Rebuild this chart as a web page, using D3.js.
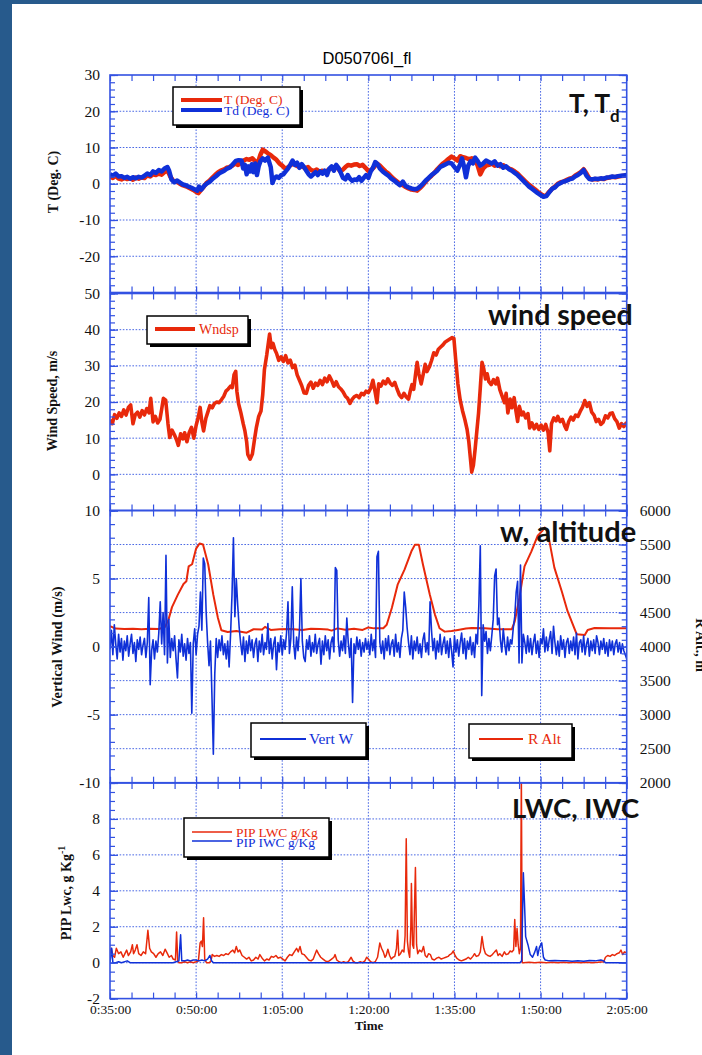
<!DOCTYPE html>
<html>
<head>
<meta charset="utf-8">
<script src="https://cdn.jsdelivr.net/npm/d3@7"></script>
<style>
  html, body { margin: 0; padding: 0; background: #fff; }
  svg { display: block; }
</style>
</head>
<body>
<svg id="chart" width="702" height="1055"></svg>
<script>
// ---------- flight D050706I_fl : time in minutes after 0:00 ----------
const timeTickMinutes = [35, 50, 65, 80, 95, 110, 125];
const timeTickLabels = ["0:35:00", "0:50:00", "1:05:00", "1:20:00", "1:35:00", "1:50:00", "2:05:00"];

// Temperature (Deg. C) [minute, value]
const tempT = [
  [35,2.0],[35.5,1.6],[36,2.2],[36.5,1.4],[37,1.2],[37.5,1.6],[38,1.3],[38.5,1.5],[39,1.1],[39.5,1.7],
  [40,1.4],[40.5,1.8],[41,1.6],[41.5,2.3],[42,2.0],[42.5,2.6],[43,2.4],[43.5,2.8],[44,2.5],[44.5,3.2],
  [45,3.8],[45.5,2.0],[46,0.8],[46.5,0.6],[47,0.2],[47.5,-0.3],[48,-0.6],[48.5,-0.9],[49,-1.3],[49.5,-1.7],
  [50,-2.2],[50.4,-2.6],[50.8,-1.8],[51.3,-0.9],[51.8,0.2],[52.3,0.8],[52.8,1.6],[53.3,2.4],[53.8,3.1],[54.3,3.6],
  [54.8,3.9],[55.3,4.4],[55.8,4.6],[56.3,5.0],[56.8,5.6],[57.3,5.2],[57.8,5.8],[58.3,6.4],[58.8,6.8],[59.3,6.6],
  [59.8,7.0],[60.3,6.2],[60.8,6.0],[61.2,8.0],[61.6,9.4],[62,9.0],[62.5,8.4],[63,7.9],[63.5,7.2],[64,6.6],
  [64.5,5.6],[65,5.0],[65.5,4.2],[66,4.5],[66.5,5.2],[67,5.6],[67.5,5.0],[68,4.6],[68.5,4.9],[69,4.2],
  [69.5,4.6],[70,3.8],[70.5,3.5],[71,3.9],[71.5,3.3],[72,3.6],[72.5,3.2],[73,3.8],[73.5,4.3],[74,4.0],
  [74.5,4.8],[75,3.6],[75.5,3.8],[76,4.6],[76.5,5.2],[77,5.0],[77.5,5.3],[78,5.4],[78.5,4.9],[79,5.2],
  [79.5,4.4],[80,3.5],[80.5,3.8],[81,4.6],[81.5,5.6],[82,5.0],[82.5,4.2],[83,3.4],[83.5,2.8],[84,2.0],
  [84.5,1.2],[85,0.6],[85.5,0.0],[86,-0.4],[86.5,-0.9],[87,-1.3],[87.5,-1.6],[88,-1.7],[88.5,-1.9],[89,-1.2],
  [89.5,-0.4],[90,0.6],[90.5,1.5],[91,2.2],[91.5,3.0],[92,4.0],[92.5,4.8],[93,5.6],[93.5,6.2],[94,6.9],
  [94.5,7.5],[95,7.0],[95.5,6.4],[96,7.6],[96.5,7.3],[97,7.1],[97.5,6.8],[98,7.0],[98.5,6.6],[99,5.2],
  [99.5,2.6],[100,4.2],[100.5,5.0],[101,5.2],[101.5,5.6],[102,5.0],[102.5,5.4],[103,4.8],[103.5,5.1],[104,4.6],
  [104.5,4.2],[105,3.9],[105.5,3.4],[106,2.8],[106.5,2.0],[107,1.2],[107.5,0.4],[108,-0.3],[108.5,-0.9],[109,-1.5],
  [109.5,-2.2],[110,-2.8],[110.5,-3.4],[111,-3.2],[111.5,-2.2],[112,-1.4],[112.5,-0.8],[113,0.0],[113.5,0.4],[114,0.6],
  [114.5,1.0],[115,1.4],[115.5,1.6],[116,2.2],[116.5,2.7],[117,3.2],[117.5,4.0],[118,2.8],[118.5,1.4],[119,1.2],
  [119.5,1.3],[120,1.2],[120.5,1.4],[121,1.3],[121.5,1.6],[122,1.7],[122.5,1.9],[123,1.8],[123.5,2.0],[124,2.1],
  [124.5,2.2],[125,2.3]
];

// Dew point (Deg. C) [minute, value]
const tempTd = [
  [35,2.6],[35.5,2.2],[36,2.8],[36.5,2.0],[37,2.1],[37.5,1.6],[38,1.9],[38.5,1.4],[39,1.8],[39.5,1.5],
  [40,1.9],[40.5,1.7],[41,2.2],[41.5,2.8],[42,2.4],[42.5,3.4],[43,3.0],[43.5,3.8],[44,3.4],[44.5,4.2],
  [45,4.6],[45.3,3.6],[45.7,1.2],[46.2,0.4],[46.7,0.9],[47.2,0.3],[47.7,-0.2],[48.2,-0.4],[48.7,-0.8],[49.2,-1.1],
  [49.7,-1.5],[50.2,-1.9],[50.5,-0.8],[50.9,-1.6],[51.4,-0.6],[51.9,0.1],[52.4,0.6],[52.9,1.4],[53.4,2.0],[53.9,2.7],
  [54.4,3.2],[54.9,3.6],[55.4,4.2],[55.9,4.5],[56.4,5.4],[56.9,6.3],[57.4,6.5],[57.9,6.4],[58.2,4.2],[58.5,5.2],
  [58.8,2.6],[59.1,4.8],[59.4,3.4],[59.7,5.4],[60,3.2],[60.3,5.6],[60.6,2.4],[60.9,4.8],[61.2,6.2],[61.6,7.0],
  [62,6.4],[62.5,7.2],[63,4.6],[63.3,0.2],[63.6,1.4],[64,2.0],[64.4,1.6],[64.8,2.4],[65.2,2.6],[65.6,3.4],
  [66,4.2],[66.4,5.2],[66.8,6.4],[67.2,5.2],[67.6,5.8],[68,4.4],[68.4,5.4],[68.8,4.6],[69.2,3.6],[69.6,2.6],
  [70,2.0],[70.4,2.6],[70.8,3.2],[71.2,2.4],[71.6,3.4],[72,2.8],[72.4,3.6],[72.8,2.4],[73.2,4.2],[73.6,4.8],
  [74,3.6],[74.4,5.2],[74.8,4.4],[75.2,3.0],[75.6,1.6],[76,1.2],[76.4,2.4],[76.8,1.4],[77.2,0.8],[77.6,1.2],
  [78,1.0],[78.4,1.8],[78.8,0.8],[79.2,1.6],[79.6,2.4],[80,1.6],[80.4,3.4],[80.8,4.4],[81.2,6.0],[81.6,5.4],
  [82,4.2],[82.5,3.4],[83,2.8],[83.5,2.2],[84,1.4],[84.5,0.9],[85,0.2],[85.5,-0.4],[86,0.6],[86.5,-0.6],
  [87,-1.0],[87.5,-1.3],[88,-1.5],[88.5,-1.4],[89,-0.8],[89.5,0.0],[90,0.9],[90.5,1.6],[91,2.4],[91.5,3.0],
  [92,3.6],[92.5,4.6],[93,5.0],[93.5,5.4],[94,5.8],[94.5,5.6],[95,4.6],[95.5,3.6],[96,5.4],[96.3,7.0],
  [96.6,5.2],[97,1.8],[97.4,5.0],[97.8,6.2],[98.2,5.6],[98.6,7.2],[99,6.4],[99.5,5.0],[100,5.6],[100.5,6.4],
  [101,6.0],[101.5,5.6],[102,6.2],[102.5,5.0],[103,5.4],[103.5,4.4],[104,4.8],[104.5,4.0],[105,3.6],[105.5,3.0],
  [106,2.4],[106.5,1.6],[107,0.8],[107.5,0.0],[108,-0.8],[108.5,-1.4],[109,-2.0],[109.5,-2.6],[110,-3.1],[110.5,-3.6],
  [111,-3.4],[111.5,-2.4],[112,-1.4],[112.5,-1.0],[113,-0.2],[113.5,0.2],[114,0.6],[114.5,0.8],[115,1.2],[115.5,1.4],
  [116,2.0],[116.5,2.4],[117,3.0],[117.5,3.8],[118,2.2],[118.5,1.3],[119,1.2],[119.5,1.4],[120,1.3],[120.5,1.5],
  [121,1.4],[121.5,1.7],[122,1.8],[122.5,2.0],[123,1.9],[123.5,2.1],[124,2.2],[124.5,2.3],[125,2.4]
];

// Wind speed (m/s) [minute, value]
const windSpeed = [
  [35,15],[35.4,14],[35.8,16.5],[36.2,15.5],[36.6,17],[37,16],[37.4,17.8],[37.8,16.4],[38.2,18.5],[38.6,19.2],
  [39,14],[39.4,16.5],[39.8,17.2],[40.2,15.8],[40.6,17.6],[41,16.4],[41.4,18.2],[41.8,17],[42.1,21],[42.5,14.5],
  [42.9,16],[43.3,14.2],[43.7,15.2],[44,18],[44.3,21],[44.7,20.5],[45.1,14],[45.4,10.2],[45.8,12.2],[46.2,11],
  [46.6,9.5],[46.9,8],[47.3,11.2],[47.7,9.8],[48,11.5],[48.4,9],[48.8,11.6],[49.2,13],[49.6,10],[50,13.5],
  [50.4,16],[50.7,18.5],[51,14.5],[51.3,12],[51.7,15.5],[52,17],[52.4,19],[52.8,18.4],[53.2,19.6],[53.6,20],
  [54,19.8],[54.4,20.6],[54.8,21.5],[55.2,23],[55.6,23.6],[56,24.4],[56.3,24],[56.6,27.5],[56.9,28.5],[57.1,23],
  [57.4,19.5],[57.8,17],[58.2,14],[58.5,12],[58.8,9],[59,5.5],[59.4,4.2],[59.8,5.6],[60.2,10],[60.5,13],
  [60.9,16],[61.3,17.5],[61.6,22],[61.9,29],[62.3,33],[62.6,36.5],[62.8,38.8],[63.1,35],[63.4,36.2],[63.7,34.5],
  [64,33.5],[64.4,31.5],[64.8,32.5],[65.2,31.2],[65.6,32.8],[66,30.8],[66.4,31.6],[66.8,29.5],[67.2,30.2],[67.6,27.5],
  [68,26],[68.4,24.5],[68.8,22.5],[69.2,22.4],[69.6,24.6],[70,25.5],[70.4,23.8],[70.8,25.2],[71.2,24.6],[71.6,26],
  [72,24.8],[72.4,26.6],[72.8,25.6],[73.2,27.2],[73.6,26],[74,24.4],[74.4,25.6],[74.8,24.2],[75.2,23.6],[75.6,22.8],
  [76,21.6],[76.4,21],[76.8,19.6],[77.2,20.8],[77.6,21.5],[78,21.8],[78.4,21.2],[78.8,22.4],[79.2,22],[79.6,23],
  [80,22.6],[80.4,23.8],[80.8,26],[81.2,22.6],[81.5,19.8],[81.8,25],[82.2,24.4],[82.6,25.8],[83,25],[83.4,26.4],
  [83.8,25.2],[84.2,24.6],[84.6,25.4],[85,23.6],[85.4,22],[85.8,21.2],[86.2,22.4],[86.6,21.4],[87,20.8],[87.3,23],
  [87.6,24.8],[87.9,23.5],[88.2,27.4],[88.5,31],[88.8,27.8],[89.2,25],[89.6,28],[89.9,30.4],[90.2,28.4],[90.6,29.6],
  [91,31.4],[91.4,33.6],[91.8,33],[92.2,34.6],[92.6,35.2],[93,35.8],[93.4,36.6],[93.8,37],[94.2,37.4],[94.6,37.8],
  [94.9,37.6],[95.2,32],[95.6,25],[96,20.5],[96.4,17.6],[96.8,15.2],[97.2,12.4],[97.5,9],[97.8,4],[98,0.6],
  [98.3,2.5],[98.6,7],[98.9,12],[99.2,17],[99.5,24],[99.8,31],[100.1,29.2],[100.4,26.4],[100.7,27.8],[101,25.6],
  [101.4,24.8],[101.8,26.2],[102.2,25],[102.5,26.6],[102.9,23.4],[103.3,21.6],[103.7,19.8],[104,22.4],[104.3,17],[104.7,20.8],
  [105,18.4],[105.4,21.2],[105.7,17.6],[106,14.6],[106.3,18.8],[106.7,16.4],[107,17.2],[107.4,15.6],[107.8,16.8],[108.1,12.8],
  [108.5,14.2],[108.9,12.6],[109.3,13.8],[109.7,12.4],[110.1,13.6],[110.5,12.2],[110.9,13.8],[111.3,11.6],[111.6,6.5],[111.9,14],
  [112.3,15.6],[112.7,14.8],[113,16],[113.4,14.6],[113.8,15.2],[114.2,13.4],[114.5,12.4],[114.9,14.6],[115.3,15.8],[115.7,15],
  [116.1,16.4],[116.5,16],[116.9,17.4],[117.3,18.6],[117.7,20.4],[118.1,18.8],[118.5,19.8],[118.9,17.2],[119.3,16.4],[119.7,14.6],
  [120.1,15.2],[120.5,13.8],[120.9,14.4],[121.3,16.2],[121.7,15.6],[122.1,16.8],[122.5,17],[122.9,15.4],[123.3,14.6],[123.7,12.8],
  [124.1,14],[124.5,13.2],[125,14.4]
];

// Vertical wind (m/s), one sample every quarter minute from 0:35:00
const vertWStart = 35;
const vertWStep = 0.25;
const vertW = [
  -0.2,1.2,-0.6,1.6,  0.2,-0.9,0.9,-0.4,  0.6,-1.0,0.4,-0.3,  0.8,-0.7,0.2,0.9,  -0.5,0.3,-1.1,0.5,
  -0.2,0.7,-0.6,0.1,  0.6,-0.8,0.3,3.6,  -2.8,-0.3,0.5,-0.9,  0.4,-0.4,1.0,3.3,  0.2,2.5,-0.6,6.7,
  -1.2,2.0,-0.8,0.6,  -0.3,0.8,-0.9,-2.3,  0.5,-0.4,0.9,-0.7,  0.2,-1.0,0.6,-0.5,  0.3,-4.9,0.2,1.3,
  -0.6,0.9,1.5,4.0,  1.2,6.5,6.1,2.5,  0.3,-1.4,0.4,-3.5,  -7.9,-2.0,0.6,-0.8,  0.5,-0.3,0.8,-0.6,
  0.2,-0.9,0.4,-1.5,  0.9,3.8,8.0,2.2,  5.0,3.0,1.4,0.3,  -0.6,0.7,-1.1,0.4,  -0.5,0.8,-0.3,0.5,
  -0.8,0.2,0.6,-1.1,  0.4,-0.4,0.9,-0.6,  0.3,-0.2,1.7,-0.5,  0.6,-0.9,0.2,0.7,  -1.7,0.3,-0.4,0.8,
  -0.6,0.5,-0.2,1.0,  3.3,-0.5,0.6,4.4,  0.2,-0.9,0.7,-0.3,  1.2,5.0,0.4,-0.8,  -1.1,0.5,-0.2,0.8,
  -0.7,0.3,-0.4,0.9,  -0.5,0.2,0.6,-1.3,  0.4,-0.6,0.8,-0.3,  0.5,-0.9,0.3,0.7,  -0.4,5.8,5.6,0.5,
  -0.7,0.4,-0.3,0.8,  -0.5,2.1,0.3,-0.8,  0.6,-4.1,0.2,-0.5,  0.7,-0.2,0.5,-0.7,  0.3,-0.4,0.6,-0.2,
  0.4,-0.6,0.9,-0.3,  0.5,-0.8,6.6,7.0,  0.3,-0.5,0.4,-0.9,  0.6,-0.3,0.8,-0.6,  0.2,0.5,-0.7,0.9,
  -0.4,0.3,-0.8,0.6,  1.2,4.0,2.9,1.4,  0.3,-0.6,0.8,-0.9,  0.4,-0.3,0.7,-0.5,  0.2,-0.8,0.5,1.0,
  -0.4,0.3,-0.6,3.3,  1.2,-0.3,0.6,-0.9,  0.4,-0.4,0.9,-0.6,  0.2,0.7,-0.5,0.4,  -0.8,0.6,-0.3,-1.5,
  0.8,-0.4,0.5,-0.7,  0.3,1.0,-0.5,0.6,  -0.9,0.4,-0.2,0.7,  -0.6,0.3,-0.8,0.9,  0.2,3.1,7.4,-3.6,
  1.6,0.4,1.1,-0.5,  0.6,-0.3,0.8,2.0,  5.2,5.7,1.6,2.1,  0.5,-0.4,1.3,0.2,  -0.6,0.7,-0.3,0.5,
  0.2,1.4,2.2,4.0,  4.8,-1.2,6.0,-1.2,  0.9,0.3,-0.5,0.8,  -0.4,0.6,-0.6,0.3,  0.9,-0.5,0.4,-0.8,
  0.6,0.2,1.3,-0.4,  0.7,-0.3,0.5,1.1,  -0.5,1.5,0.3,-0.6,  0.4,-0.7,0.8,-0.2,  0.5,-0.8,0.3,0.6,
  -0.5,0.4,-0.3,0.7,  -0.6,1.0,-0.9,0.3,  0.5,-0.4,0.8,-0.6,  0.2,0.6,-0.7,0.4,  -0.3,0.5,-0.5,0.8,
  0.3,-0.6,0.4,-0.2,  0.6,-0.5,0.3,-0.7,  0.5,-0.3,0.4,-0.6,  0.2,0.5,-0.4,0.3,  -0.5,0.2,-0.3,-0.6,
  -0.9
];

// Radar altitude (m) [minute, value]
const radarAlt = [
  [35,4300],[36,4265],[37.5,4258],[39,4262],[40.5,4255],[42,4262],[43.5,4258],[44.6,4290],[45.2,4400],[45.8,4580],
  [46.8,4760],[47.8,4920],[48.3,4960],[48.7,5180],[49.3,5210],[50,5440],[50.6,5515],[51.2,5500],[52.1,5210],[53,4760],
  [53.8,4420],[54.4,4240],[55.5,4215],[57,4228],[58.8,4205],[60,4255],[61.5,4250],[62,4290],[63,4245],[64.5,4255],
  [66.5,4260],[68.5,4245],[70,4262],[71.5,4258],[73,4250],[73.6,4235],[74.6,4268],[76,4248],[77.5,4262],[79,4245],
  [80,4282],[81,4268],[82.6,4270],[83.2,4320],[84.1,4570],[85.1,4910],[86.3,5130],[87.5,5400],[88.1,5495],[88.8,5495],
  [89.5,5210],[90.7,4765],[91.6,4470],[92.4,4270],[93.3,4220],[94.5,4230],[95.6,4245],[97,4265],[98,4272],[100.3,4270],
  [102.5,4255],[105,4256],[105.5,4370],[106.3,4715],[107.2,5180],[108.4,5400],[109.5,5630],[110.3,5700],[110.7,5750],[111.2,5700],
  [112.4,5160],[113.7,4810],[114.7,4520],[116.3,4180],[117.7,4170],[118.2,4245],[119.4,4272],[122,4270],[125,4270]
];

// PIP liquid water content (g/Kg) [minute, value]
const pipLwc = [
  [35,0.5],[35.2,0.8],[35.5,0.4],[35.8,0.3],[36.1,0.8],[36.5,0.5],[36.9,0.6],[37.3,0.3],[37.6,0.5],[37.9,0.7],
  [38.2,0.4],[38.6,0.6],[38.9,1.0],[39.1,0.5],[39.4,0.7],[39.7,1.0],[40,0.5],[40.4,0.4],[40.8,0.6],[41.2,0.5],
  [41.6,1.8],[41.9,0.8],[42.2,0.6],[42.6,0.5],[43,0.3],[43.4,0.5],[43.8,0.6],[44.2,0.4],[44.6,0.75],[45,0.5],
  [45.3,0.3],[45.7,0.4],[46,0.2],[46.4,0.15],[46.6,1.7],[46.8,0.1],[47,0.0],[47.5,0.0],[48,0.05],[48.5,0.0],
  [49,0.05],[49.5,0.0],[50,0.05],[50.4,0.1],[50.7,1.1],[50.9,1.2],[51.1,0.9],[51.3,2.5],[51.5,0.2],[51.8,0.0],
  [52.3,0.0],[52.6,0.1],[52.8,0.45],[53.2,0.35],[53.6,0.4],[54,0.35],[54.4,0.45],[54.8,0.4],[55.2,0.5],[55.6,0.45],
  [56,0.6],[56.4,0.7],[56.7,0.55],[57,0.9],[57.3,0.6],[57.6,0.7],[58,0.4],[58.4,0.3],[58.8,0.2],[59.2,0.3],
  [59.6,0.1],[60,0.15],[60.4,0.3],[60.8,0.2],[61.1,0.45],[61.5,0.25],[61.9,0.1],[62.3,0.2],[62.7,0.15],[63.1,0.35],
  [63.5,0.3],[63.9,0.4],[64.3,0.25],[64.7,0.3],[65.1,0.2],[65.5,0.1],[65.9,0.3],[66.3,0.45],[66.7,0.4],[67.1,0.6],
  [67.5,0.8],[67.8,0.6],[68.1,0.9],[68.4,0.5],[68.8,0.45],[69.2,0.3],[69.6,0.15],[70,0.1],[70.4,0.2],[70.7,0.45],
  [71,0.7],[71.3,0.5],[71.7,0.3],[72.1,0.2],[72.5,0.1],[72.8,0.05],[73.2,0.1],[73.6,0.2],[74,0.3],[74.2,0.45],
  [74.5,0.15],[74.9,0.05],[75.3,0.0],[75.7,0.05],[76.1,0.0],[76.5,0.05],[77,0.3],[77.3,0.1],[77.7,0.0],[78.2,0.0],
  [78.6,0.05],[79,0.0],[79.4,0.1],[79.7,0.3],[80,0.2],[80.4,0.05],[80.8,0.0],[81.2,0.05],[81.6,0.3],[82,1.1],
  [82.3,0.8],[82.6,0.6],[82.9,0.3],[83.1,0.4],[83.4,0.75],[83.7,0.4],[84,0.2],[84.3,0.3],[84.6,0.35],[84.9,0.8],
  [85.1,1.8],[85.3,0.4],[85.6,0.5],[85.9,0.7],[86.2,0.6],[86.4,1.5],[86.6,6.9],[86.8,1.2],[87,0.6],[87.2,0.3],
  [87.4,2.0],[87.5,4.4],[87.7,1.0],[87.9,0.8],[88,2.5],[88.2,5.3],[88.4,1.0],[88.6,0.5],[88.9,0.7],[89.3,0.6],
  [89.6,0.9],[89.9,0.4],[90.2,0.3],[90.5,0.5],[90.8,0.45],[91.1,0.2],[91.5,0.15],[91.9,0.25],[92.3,0.3],[92.7,0.2],
  [93.1,0.25],[93.5,0.3],[93.9,0.35],[94.2,0.45],[94.5,0.5],[94.8,0.65],[95.1,0.4],[95.4,0.25],[95.8,0.15],[96.2,0.1],
  [96.6,0.15],[97,0.2],[97.4,0.3],[97.8,0.2],[98.2,0.35],[98.5,0.5],[98.8,0.35],[99.2,0.4],[99.5,0.6],[99.8,1.45],
  [100.1,0.8],[100.4,0.5],[100.8,0.4],[101.2,0.35],[101.6,0.45],[102,0.6],[102.3,0.7],[102.6,0.4],[102.9,0.5],[103.3,0.35],
  [103.7,0.6],[104,0.45],[104.4,0.5],[104.7,0.65],[105,0.6],[105.3,0.7],[105.5,2.4],[105.7,0.9],[105.9,1.9],[106.1,1.0],
  [106.3,0.5],[106.5,0.8],[106.65,10.5],[106.8,0.0],[107,0.0],[108,0.02],[109,0.0],[110,0.02],[111,0.0],[112,0.02],
  [113,0.0],[114,0.02],[115,0.0],[116,0.02],[117,0.0],[118,0.02],[119,0.0],[120,0.02],[121,0.05],[121.3,0.3],
  [121.7,0.4],[122.1,0.35],[122.5,0.45],[122.9,0.4],[123.3,0.5],[123.7,0.55],[124,0.7],[124.3,0.45],[124.6,0.6],[125,0.55]
];

// PIP ice water content (g/Kg) [minute, value]
const pipIwc = [
  [35,0.0],[35.3,0.8],[35.5,0.0],[36,0.0],[36.5,0.05],[37,0.0],[38,0.1],[38.5,0.0],[40,0.0],[42,0.0],
  [44,0.0],[46,0.0],[46.5,0.05],[47,0.1],[47.3,1.55],[47.5,0.1],[48,0.1],[48.5,0.15],[49,0.1],[49.5,0.15],
  [50,0.15],[50.5,0.1],[51,0.15],[51.5,0.1],[52,0.2],[52.4,0.4],[52.7,0.1],[53,0.0],[60,0.0],[70,0.0],
  [80,0.0],[90,0.0],[100,0.0],[106.4,0.0],[106.7,0.1],[107,5.0],[107.2,3.3],[107.4,1.45],[107.8,1.0],[108.2,0.45],
  [108.6,0.3],[109,0.6],[109.3,0.9],[109.5,0.4],[109.8,0.85],[110.2,1.1],[110.5,0.3],[110.8,0.15],[111.5,0.1],[112.5,0.12],
  [113.5,0.1],[114.5,0.1],[115.5,0.08],[116.5,0.1],[117.5,0.08],[118.5,0.12],[119.5,0.1],[120.5,0.15],[121,0.1],[121.3,0.0],
  [125,0.0]
];

// Axis tick values and the labels printed beside them
const tempLabelTicks = [30, 20, 10, 0, -10, -20];
const windLabelTicks = [50, 40, 30, 20, 10, 0];
const vertLabelTicks = [10, 5, 0, -5, -10];
const altLabelTicks = [6000, 5500, 5000, 4500, 4000, 3500, 3000, 2500, 2000];
const lwcLabelTicks = [8, 6, 4, 2, 0, -2];

// ---------- drawing ----------
const RED = "#e8290b";
const BLUE = "#0f30d8";
const FRAME = "#3352e2";
const GRID = "#4a68e4";
const SERIF = "'Liberation Serif', 'Times New Roman', serif";
const plain = d => String(d);   // hyphen-minus, no thousands separator

const svg = d3.select("#chart");
svg.append("rect").attr("width", 702).attr("height", 1055).attr("fill", "#fff");
// slide border
svg.append("rect").attr("x", 0).attr("y", 0).attr("width", 12).attr("height", 1055).attr("fill", "#275a8c");
svg.append("rect").attr("x", 0).attr("y", 0).attr("width", 702).attr("height", 4).attr("fill", "#275a8c");

const X0 = 110, X1 = 626.7;
const x = d3.scaleLinear().domain([35, 125]).range([X0, X1]);
const xMinor = d3.range(35, 125.001, 3.75);

svg.append("text")
  .attr("x", 367).attr("y", 64)
  .attr("text-anchor", "middle")
  .attr("font-family", "'Liberation Sans', Arial, sans-serif")
  .attr("font-size", 16.5)
  .text("D050706I_fl");

function styleTicks(g, w) {
  g.select(".domain").remove();
  g.selectAll(".tick line").attr("stroke", FRAME).attr("stroke-width", w || 1.2);
}

function panel(opt) {
  const y = d3.scaleLinear().domain(opt.domain).range([opt.bottom, opt.top]);
  const id = "clip-" + opt.name;
  svg.append("clipPath").attr("id", id)
    .append("rect").attr("x", X0).attr("y", opt.top)
    .attr("width", X1 - X0).attr("height", opt.bottom - opt.top);

  // dotted grid
  const grid = svg.append("g");
  grid.selectAll(".gv").data(timeTickMinutes.slice(1, -1)).join("line")
    .attr("x1", d => x(d)).attr("x2", d => x(d))
    .attr("y1", opt.top).attr("y2", opt.bottom);
  const gy = opt.gridScale || y;
  grid.selectAll(".gh").data(opt.grid).join("line")
    .attr("x1", X0).attr("x2", X1)
    .attr("y1", d => gy(d)).attr("y2", d => gy(d));
  grid.selectAll("line").attr("stroke", GRID).attr("stroke-width", 1)
    .attr("stroke-dasharray", "1.6,1.6");

  const plot = svg.append("g").attr("clip-path", `url(#${id})`);
  opt.series(plot, y);

  // frame
  svg.append("rect").attr("x", X0).attr("y", opt.top)
    .attr("width", X1 - X0).attr("height", opt.bottom - opt.top)
    .attr("fill", "none").attr("stroke", FRAME).attr("stroke-width", 1.6);

  // time ticks along top and bottom edges
  svg.append("g").attr("transform", `translate(0,${opt.top})`)
    .call(d3.axisTop(x).tickValues(xMinor).tickSize(-6).tickFormat(""))
    .call(styleTicks);
  svg.append("g").attr("transform", `translate(0,${opt.bottom})`)
    .call(d3.axisBottom(x).tickValues(xMinor).tickSize(-6).tickFormat(""))
    .call(styleTicks);

  // left ticks + labels
  svg.append("g").attr("transform", `translate(${X0},0)`)
    .call(d3.axisLeft(y).tickValues(opt.minor).tickSize(-5).tickFormat(""))
    .call(styleTicks);
  svg.append("g").attr("transform", `translate(${X0},0)`)
    .call(d3.axisLeft(y).tickValues(opt.major).tickSize(-8).tickFormat(""))
    .call(styleTicks);
  const lab = svg.append("g").attr("transform", `translate(${X0},0)`)
    .call(d3.axisLeft(y).tickValues(opt.labels).tickSize(0).tickPadding(10).tickFormat(plain));
  lab.select(".domain").remove();
  lab.selectAll("text").attr("font-family", SERIF).attr("font-size", 15.5).attr("fill", "#111");

  // right-edge ticks
  const ry = opt.rightScale || y;
  svg.append("g").attr("transform", `translate(${X1},0)`)
    .call(d3.axisRight(ry).tickValues(opt.rightMinor || opt.minor).tickSize(-5).tickFormat(""))
    .call(styleTicks);
  svg.append("g").attr("transform", `translate(${X1},0)`)
    .call(d3.axisRight(ry).tickValues(opt.rightMajor || opt.major).tickSize(-8).tickFormat(""))
    .call(styleTicks);

  // rotated axis title
  svg.append("text")
    .attr("transform", `translate(${opt.titleX},${opt.titleY}) rotate(-90)`)
    .attr("text-anchor", "middle")
    .attr("font-family", SERIF).attr("font-weight", "bold")
    .attr("font-size", opt.titleSize || 14)
    .attr("fill", "#111")
    .call(opt.title);
  return y;
}

function legend(bx, by, bw, bh, rows) {
  const g = svg.append("g");
  g.append("rect").attr("x", bx + 3).attr("y", by + 3).attr("width", bw).attr("height", bh).attr("fill", "#000");
  g.append("rect").attr("x", bx).attr("y", by).attr("width", bw).attr("height", bh)
    .attr("fill", "#fff").attr("stroke", "#000").attr("stroke-width", 1.5);
  rows.forEach(r => {
    g.append("line").attr("x1", r.x1).attr("x2", r.x2).attr("y1", r.ly).attr("y2", r.ly)
      .attr("stroke", r.color).attr("stroke-width", r.w);
    g.append("text").attr("x", r.tx).attr("y", r.ty)
      .attr("font-family", SERIF).attr("font-size", r.size).attr("fill", r.color)
      .text(r.label);
  });
}

function note(txt, xPos, yPos, size) {
  return svg.append("text").attr("x", xPos).attr("y", yPos)
    .attr("font-family", "Lato, 'Open Sans', sans-serif").attr("font-weight", 700)
    .attr("font-size", size).attr("fill", "#111").text(txt);
}

const line = y => d3.line().x(d => x(d[0])).y(d => y(d[1]));

// --- panel 1: T and Td ---
panel({
  name: "t", top: 75, bottom: 292.5, domain: [-30, 30],
  major: [-30, -20, -10, 0, 10, 20, 30], minor: d3.range(-30, 30.01, 2),
  labels: tempLabelTicks, grid: [-20, -10, 0, 10, 20],
  titleX: 58, titleY: 182, title: t => t.text("T (Deg. C)"),
  series: (g, y) => {
    g.append("path").datum(tempT).attr("d", line(y)).attr("fill", "none")
      .attr("stroke", RED).attr("stroke-width", 4.5).attr("stroke-linejoin", "round");
    g.append("path").datum(tempTd).attr("d", line(y)).attr("fill", "none")
      .attr("stroke", BLUE).attr("stroke-width", 4.5).attr("stroke-linejoin", "round");
  }
});

// --- panel 2: wind speed ---
panel({
  name: "ws", top: 293.5, bottom: 510.5, domain: [-10, 50],
  major: [-10, 0, 10, 20, 30, 40, 50], minor: d3.range(-10, 50.01, 2),
  labels: windLabelTicks, grid: [0, 10, 20, 30, 40],
  titleX: 57, titleY: 401, title: t => t.text("Wind Speed, m/s"),
  series: (g, y) => {
    g.append("path").datum(windSpeed).attr("d", line(y)).attr("fill", "none")
      .attr("stroke", RED).attr("stroke-width", 3.6).attr("stroke-linejoin", "round");
  }
});

// --- panel 3: vertical wind and radar altitude ---
const alt = d3.scaleLinear().domain([2000, 6000]).range([782.7, 510.5]);
panel({
  name: "w", top: 510.5, bottom: 782.7, domain: [-10, 10],
  major: [-10, -5, 0, 5, 10], minor: d3.range(-10, 10.01, 1),
  labels: vertLabelTicks, grid: [2500, 3000, 3500, 4000, 4500, 5000, 5500], gridScale: alt,
  rightScale: alt, rightMajor: altLabelTicks, rightMinor: d3.range(2000, 6000.1, 100),
  titleX: 62, titleY: 647, titleSize: 14.5, title: t => t.text("Vertical Wind (m/s)"),
  series: (g, y) => {
    g.append("path").datum(radarAlt).attr("d", line(alt)).attr("fill", "none")
      .attr("stroke", RED).attr("stroke-width", 2).attr("stroke-linejoin", "round");
    g.append("path").datum(vertW)
      .attr("d", d3.line().x((d, i) => x(vertWStart + i * vertWStep)).y(d => y(d)))
      .attr("fill", "none").attr("stroke", BLUE).attr("stroke-width", 1.6).attr("stroke-linejoin", "round");
  }
});
const altLab = svg.append("g").attr("transform", `translate(${X1},0)`)
  .call(d3.axisRight(alt).tickValues(altLabelTicks).tickSize(0).tickPadding(13).tickFormat(plain));
altLab.select(".domain").remove();
altLab.selectAll("text").attr("font-family", SERIF).attr("font-size", 15.5).attr("fill", "#111");
svg.append("text")
  .attr("transform", "translate(696,645) rotate(90)")
  .attr("text-anchor", "middle")
  .attr("font-family", SERIF).attr("font-weight", "bold").attr("font-size", 14)
  .attr("fill", "#111").text("R Alt., m");

// --- panel 4: PIP LWC / IWC ---
panel({
  name: "pip", top: 783, bottom: 998.6, domain: [-2, 10],
  major: [-2, 0, 2, 4, 6, 8, 10], minor: d3.range(-2, 10.01, 0.5),
  labels: lwcLabelTicks, grid: [0, 2, 4, 6, 8],
  titleX: 71, titleY: 893,
  title: t => {
    t.append("tspan").text("PIP Lwc, g Kg");
    t.append("tspan").attr("font-size", 10).attr("dy", -6).text("-1");
  },
  series: (g, y) => {
    g.append("path").datum(pipLwc).attr("d", line(y)).attr("fill", "none")
      .attr("stroke", RED).attr("stroke-width", 1.5).attr("stroke-linejoin", "round");
    g.append("path").datum(pipIwc).attr("d", line(y)).attr("fill", "none")
      .attr("stroke", BLUE).attr("stroke-width", 1.5).attr("stroke-linejoin", "round");
  }
});

// time axis labels
const xl = svg.append("g").attr("transform", "translate(0,998.6)")
  .call(d3.axisBottom(x).tickValues(timeTickMinutes).tickSize(0).tickPadding(6)
    .tickFormat((d, i) => timeTickLabels[i]));
xl.select(".domain").remove();
xl.selectAll("text").attr("font-family", SERIF).attr("font-size", 13.5).attr("fill", "#111");
svg.append("text").attr("x", 369).attr("y", 1029.5).attr("text-anchor", "middle")
  .attr("font-family", SERIF).attr("font-weight", "bold").attr("font-size", 13)
  .attr("fill", "#111").text("Time");

// legends
legend(173, 87, 127, 38, [
  {x1: 181, x2: 222, ly: 100, w: 4, color: RED, tx: 224, ty: 104, size: 13.5, label: "T (Deg. C)"},
  {x1: 181, x2: 222, ly: 110, w: 4, color: BLUE, tx: 224, ty: 115, size: 13.5, label: "Td (Deg. C)"}
]);
legend(147, 316, 101, 28, [
  {x1: 155, x2: 195, ly: 329, w: 4, color: RED, tx: 199, ty: 334, size: 14, label: "Wndsp"}
]);
legend(251, 723, 115, 34, [
  {x1: 260, x2: 306, ly: 739, w: 2, color: BLUE, tx: 309, ty: 744, size: 15.5, label: "Vert W"}
]);
legend(469, 724, 103, 34, [
  {x1: 479, x2: 523, ly: 739, w: 2, color: RED, tx: 528, ty: 744, size: 15.5, label: "R Alt"}
]);
legend(184, 818, 145, 39, [
  {x1: 192, x2: 232, ly: 832, w: 1.5, color: RED, tx: 236, ty: 836.5, size: 13.5, label: "PIP LWC g/Kg"},
  {x1: 192, x2: 232, ly: 841, w: 1.5, color: BLUE, tx: 236, ty: 846.5, size: 13.5, label: "PIP IWC g/Kg"}
]);

// panel captions
const td = note("T, T", 569, 113, 26);
td.append("tspan").attr("font-size", 17).attr("dy", 9).text("d");
note("wind speed", 488, 325, 28.5);
note("w, altitude", 500, 542, 29);
note("LWC, IWC", 512, 818, 27.5);
</script>
</body>
</html>
